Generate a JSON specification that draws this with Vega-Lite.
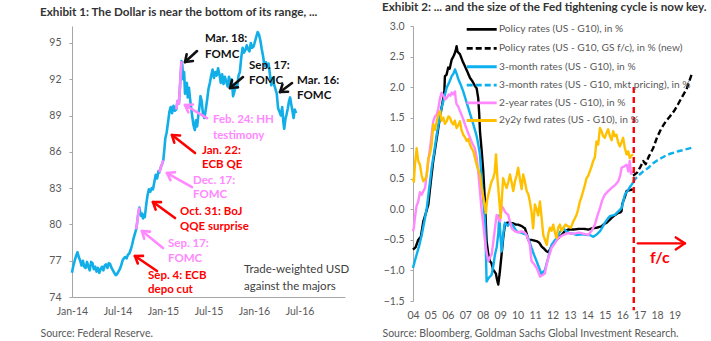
{
  "$schema": "https://vega.github.io/schema/vega-lite/v6.json",
  "background": "#ffffff",
  "padding": {"left": 40, "top": 2, "right": 2, "bottom": 2},
  "bounds": "flush",
  "spacing": 68,
  "config": {
    "font": "Lato",
    "view": {"stroke": null},
    "axis": {"grid": false, "domainColor": "#a6a6a6", "tickColor": "#a6a6a6", "labelColor": "#595959", "labelFontSize": 10.5, "labelFlush": false, "labelOverlap": false, "labelBound": false},
    "title": {"fontSize": 11.7, "fontWeight": "bold", "color": "#333333", "anchor": "start", "frame": "group", "offset": 7}
  },
  "resolve": {"scale": {"color": "independent", "strokeDash": "independent"}},
  "datasets": {
    "usd": [
      {"t": 2014.000, "v": 76.0, "p": 0}, {"t": 2014.015, "v": 76.6, "p": 0}, {"t": 2014.030, "v": 77.0, "p": 0}, {"t": 2014.045, "v": 77.4, "p": 0},
      {"t": 2014.060, "v": 77.7, "p": 0}, {"t": 2014.075, "v": 77.3, "p": 0}, {"t": 2014.090, "v": 77.0, "p": 0}, {"t": 2014.105, "v": 76.6, "p": 0},
      {"t": 2014.120, "v": 77.0, "p": 0}, {"t": 2014.135, "v": 76.5, "p": 0}, {"t": 2014.150, "v": 76.4, "p": 0}, {"t": 2014.165, "v": 76.9, "p": 0},
      {"t": 2014.180, "v": 76.5, "p": 0}, {"t": 2014.195, "v": 76.2, "p": 0}, {"t": 2014.210, "v": 76.9, "p": 0}, {"t": 2014.225, "v": 76.8, "p": 0},
      {"t": 2014.240, "v": 76.3, "p": 0}, {"t": 2014.255, "v": 76.5, "p": 0}, {"t": 2014.270, "v": 76.1, "p": 0}, {"t": 2014.285, "v": 76.4, "p": 0},
      {"t": 2014.300, "v": 76.0, "p": 0}, {"t": 2014.315, "v": 76.3, "p": 0}, {"t": 2014.330, "v": 76.5, "p": 0}, {"t": 2014.345, "v": 76.2, "p": 0},
      {"t": 2014.360, "v": 76.6, "p": 0}, {"t": 2014.375, "v": 76.7, "p": 0}, {"t": 2014.390, "v": 76.4, "p": 0}, {"t": 2014.405, "v": 76.8, "p": 0},
      {"t": 2014.420, "v": 76.7, "p": 0}, {"t": 2014.435, "v": 76.4, "p": 0}, {"t": 2014.450, "v": 76.2, "p": 0}, {"t": 2014.465, "v": 76.0, "p": 0},
      {"t": 2014.480, "v": 75.8, "p": 0}, {"t": 2014.495, "v": 75.9, "p": 0}, {"t": 2014.510, "v": 76.1, "p": 0}, {"t": 2014.525, "v": 76.3, "p": 0},
      {"t": 2014.540, "v": 76.6, "p": 0}, {"t": 2014.555, "v": 77.0, "p": 0}, {"t": 2014.570, "v": 77.2, "p": 0}, {"t": 2014.585, "v": 77.3, "p": 0},
      {"t": 2014.600, "v": 77.2, "p": 0}, {"t": 2014.615, "v": 77.5, "p": 0}, {"t": 2014.630, "v": 77.6, "p": 0}, {"t": 2014.645, "v": 77.9, "p": 0},
      {"t": 2014.660, "v": 78.3, "p": 0}, {"t": 2014.675, "v": 78.8, "p": 0}, {"t": 2014.690, "v": 79.2, "p": 0}, {"t": 2014.705, "v": 79.6, "p": 1},
      {"t": 2014.715, "v": 80.1, "p": 1}, {"t": 2014.725, "v": 80.7, "p": 1}, {"t": 2014.740, "v": 81.4, "p": 1}, {"t": 2014.750, "v": 81.0, "p": 0},
      {"t": 2014.760, "v": 80.7, "p": 0}, {"t": 2014.770, "v": 80.9, "p": 0}, {"t": 2014.780, "v": 80.5, "p": 0}, {"t": 2014.790, "v": 80.8, "p": 0},
      {"t": 2014.800, "v": 80.6, "p": 0}, {"t": 2014.815, "v": 81.6, "p": 0}, {"t": 2014.830, "v": 82.4, "p": 0}, {"t": 2014.845, "v": 82.9, "p": 0},
      {"t": 2014.860, "v": 82.7, "p": 0}, {"t": 2014.875, "v": 83.0, "p": 0}, {"t": 2014.890, "v": 82.9, "p": 0}, {"t": 2014.905, "v": 83.5, "p": 0},
      {"t": 2014.920, "v": 84.1, "p": 0}, {"t": 2014.935, "v": 83.8, "p": 0}, {"t": 2014.950, "v": 84.4, "p": 0}, {"t": 2014.960, "v": 84.3, "p": 2},
      {"t": 2014.975, "v": 84.7, "p": 2}, {"t": 2014.990, "v": 85.0, "p": 2}, {"t": 2015.003, "v": 85.3, "p": 2}, {"t": 2015.015, "v": 86.2, "p": 0},
      {"t": 2015.025, "v": 87.1, "p": 0}, {"t": 2015.040, "v": 87.6, "p": 0}, {"t": 2015.055, "v": 88.4, "p": 0}, {"t": 2015.070, "v": 89.3, "p": 0},
      {"t": 2015.085, "v": 89.7, "p": 0}, {"t": 2015.100, "v": 89.2, "p": 0}, {"t": 2015.115, "v": 89.8, "p": 0}, {"t": 2015.130, "v": 89.4, "p": 0},
      {"t": 2015.145, "v": 89.5, "p": 3}, {"t": 2015.160, "v": 90.2, "p": 3}, {"t": 2015.175, "v": 90.0, "p": 3}, {"t": 2015.190, "v": 91.8, "p": 3},
      {"t": 2015.203, "v": 93.5, "p": 3}, {"t": 2015.212, "v": 93.2, "p": 0}, {"t": 2015.222, "v": 92.0, "p": 0}, {"t": 2015.232, "v": 92.6, "p": 0},
      {"t": 2015.242, "v": 90.8, "p": 0}, {"t": 2015.252, "v": 91.5, "p": 0}, {"t": 2015.262, "v": 91.7, "p": 0}, {"t": 2015.272, "v": 90.5, "p": 0},
      {"t": 2015.285, "v": 91.3, "p": 0}, {"t": 2015.297, "v": 90.4, "p": 0}, {"t": 2015.310, "v": 89.6, "p": 0}, {"t": 2015.322, "v": 88.9, "p": 0},
      {"t": 2015.335, "v": 88.2, "p": 0}, {"t": 2015.350, "v": 87.8, "p": 0}, {"t": 2015.362, "v": 88.6, "p": 0}, {"t": 2015.375, "v": 88.1, "p": 0},
      {"t": 2015.388, "v": 89.0, "p": 0}, {"t": 2015.400, "v": 89.7, "p": 0}, {"t": 2015.412, "v": 90.6, "p": 0}, {"t": 2015.425, "v": 90.2, "p": 0},
      {"t": 2015.440, "v": 89.1, "p": 0}, {"t": 2015.455, "v": 88.8, "p": 0}, {"t": 2015.470, "v": 89.5, "p": 0}, {"t": 2015.485, "v": 90.3, "p": 0},
      {"t": 2015.500, "v": 91.2, "p": 0}, {"t": 2015.515, "v": 91.7, "p": 0}, {"t": 2015.530, "v": 92.3, "p": 0}, {"t": 2015.545, "v": 92.8, "p": 0},
      {"t": 2015.560, "v": 92.1, "p": 0}, {"t": 2015.575, "v": 92.6, "p": 0}, {"t": 2015.590, "v": 92.3, "p": 0}, {"t": 2015.605, "v": 92.9, "p": 0},
      {"t": 2015.620, "v": 92.4, "p": 0}, {"t": 2015.635, "v": 91.7, "p": 0}, {"t": 2015.650, "v": 92.4, "p": 0}, {"t": 2015.665, "v": 91.6, "p": 0},
      {"t": 2015.680, "v": 92.2, "p": 0}, {"t": 2015.695, "v": 91.8, "p": 0}, {"t": 2015.710, "v": 91.4, "p": 0}, {"t": 2015.725, "v": 92.2, "p": 0},
      {"t": 2015.740, "v": 91.6, "p": 0}, {"t": 2015.755, "v": 92.0, "p": 0}, {"t": 2015.770, "v": 90.6, "p": 0}, {"t": 2015.785, "v": 91.0, "p": 0},
      {"t": 2015.800, "v": 91.5, "p": 0}, {"t": 2015.815, "v": 91.3, "p": 0}, {"t": 2015.830, "v": 92.3, "p": 0}, {"t": 2015.845, "v": 92.6, "p": 0},
      {"t": 2015.860, "v": 93.8, "p": 0}, {"t": 2015.875, "v": 94.6, "p": 0}, {"t": 2015.890, "v": 94.2, "p": 0}, {"t": 2015.905, "v": 94.4, "p": 0},
      {"t": 2015.920, "v": 94.8, "p": 0}, {"t": 2015.935, "v": 94.5, "p": 0}, {"t": 2015.950, "v": 94.3, "p": 0}, {"t": 2015.965, "v": 95.0, "p": 0},
      {"t": 2015.980, "v": 94.6, "p": 0}, {"t": 2015.995, "v": 94.7, "p": 0}, {"t": 2016.010, "v": 95.1, "p": 0}, {"t": 2016.025, "v": 95.5, "p": 0},
      {"t": 2016.040, "v": 95.9, "p": 0}, {"t": 2016.055, "v": 95.7, "p": 0}, {"t": 2016.070, "v": 95.2, "p": 0}, {"t": 2016.085, "v": 94.5, "p": 0},
      {"t": 2016.100, "v": 93.9, "p": 0}, {"t": 2016.115, "v": 93.1, "p": 0}, {"t": 2016.130, "v": 93.4, "p": 0}, {"t": 2016.145, "v": 93.0, "p": 0},
      {"t": 2016.160, "v": 93.3, "p": 0}, {"t": 2016.175, "v": 92.4, "p": 0}, {"t": 2016.190, "v": 91.5, "p": 0}, {"t": 2016.205, "v": 92.1, "p": 0},
      {"t": 2016.220, "v": 91.6, "p": 0}, {"t": 2016.235, "v": 91.2, "p": 0}, {"t": 2016.250, "v": 90.8, "p": 0}, {"t": 2016.265, "v": 89.6, "p": 0},
      {"t": 2016.280, "v": 89.3, "p": 0}, {"t": 2016.295, "v": 89.0, "p": 0}, {"t": 2016.310, "v": 89.7, "p": 0}, {"t": 2016.322, "v": 88.5, "p": 0},
      {"t": 2016.332, "v": 87.9, "p": 0}, {"t": 2016.345, "v": 88.7, "p": 0}, {"t": 2016.358, "v": 89.1, "p": 0}, {"t": 2016.372, "v": 89.6, "p": 0},
      {"t": 2016.385, "v": 90.2, "p": 0}, {"t": 2016.397, "v": 90.5, "p": 0}, {"t": 2016.410, "v": 89.9, "p": 0}, {"t": 2016.422, "v": 89.4, "p": 0},
      {"t": 2016.435, "v": 88.8, "p": 0}, {"t": 2016.448, "v": 89.5, "p": 0}, {"t": 2016.462, "v": 89.2, "p": 0}
    ],
    "notes1": [
      {"t": 2015.462, "v": 95.32, "txt": "Mar. 18:", "k": "fed"},
      {"t": 2015.462, "v": 94.0, "txt": "FOMC", "k": "fed"},
      {"t": 2015.945, "v": 93.09, "txt": "Sep. 17:", "k": "fed"},
      {"t": 2015.945, "v": 91.85, "txt": "FOMC", "k": "fed"},
      {"t": 2016.473, "v": 91.85, "txt": "Mar. 16:", "k": "fed"},
      {"t": 2016.473, "v": 90.61, "txt": "FOMC", "k": "fed"},
      {"t": 2015.549, "v": 88.63, "txt": "Feb. 24: HH", "k": "fedrally"},
      {"t": 2015.549, "v": 87.31, "txt": "testimony", "k": "fedrally"},
      {"t": 2015.429, "v": 86.07, "txt": "Jan. 22:", "k": "foreign"},
      {"t": 2015.429, "v": 84.91, "txt": "ECB QE", "k": "foreign"},
      {"t": 2015.33, "v": 83.59, "txt": "Dec. 17:", "k": "fedrally"},
      {"t": 2015.33, "v": 82.43, "txt": "FOMC", "k": "fedrally"},
      {"t": 2015.187, "v": 81.02, "txt": "Oct. 31: BoJ", "k": "foreign"},
      {"t": 2015.187, "v": 79.79, "txt": "QQE surprise", "k": "foreign"},
      {"t": 2015.055, "v": 78.38, "txt": "Sep. 17:", "k": "fedrally"},
      {"t": 2015.055, "v": 77.14, "txt": "FOMC", "k": "fedrally"},
      {"t": 2014.835, "v": 75.74, "txt": "Sep. 4: ECB", "k": "foreign"},
      {"t": 2014.835, "v": 74.58, "txt": "depo cut", "k": "foreign"},
      {"t": 2015.89, "v": 76.23, "txt": "Trade-weighted USD", "k": "note"},
      {"t": 2015.89, "v": 74.83, "txt": "against the majors", "k": "note"}
    ],
    "arrows1": [
      {"t": 2015.374, "v": 94.331, "t2": 2015.242, "v2": 93.421, "k": "fed"},
      {"t": 2015.242, "v": 93.421, "t2": 2015.329, "v2": 93.504, "k": "fed"},
      {"t": 2015.242, "v": 93.421, "t2": 2015.260, "v2": 94.066, "k": "fed"},
      {"t": 2015.879, "v": 92.182, "t2": 2015.736, "v2": 91.273, "k": "fed"},
      {"t": 2015.736, "v": 91.273, "t2": 2015.824, "v2": 91.331, "k": "fed"},
      {"t": 2015.736, "v": 91.273, "t2": 2015.758, "v2": 91.909, "k": "fed"},
      {"t": 2016.418, "v": 91.686, "t2": 2016.286, "v2": 90.942, "k": "fed"},
      {"t": 2016.286, "v": 90.942, "t2": 2016.374, "v2": 90.967, "k": "fed"},
      {"t": 2016.286, "v": 90.942, "t2": 2016.313, "v2": 91.570, "k": "fed"},
      {"t": 2015.484, "v": 88.793, "t2": 2015.242, "v2": 89.868, "k": "fedrally"},
      {"t": 2015.242, "v": 89.868, "t2": 2015.278, "v2": 89.264, "k": "fedrally"},
      {"t": 2015.242, "v": 89.868, "t2": 2015.330, "v2": 89.917, "k": "fedrally"},
      {"t": 2015.352, "v": 85.901, "t2": 2015.099, "v2": 87.388, "k": "foreign"},
      {"t": 2015.099, "v": 87.388, "t2": 2015.124, "v2": 86.752, "k": "foreign"},
      {"t": 2015.099, "v": 87.388, "t2": 2015.187, "v2": 87.355, "k": "foreign"},
      {"t": 2015.319, "v": 83.091, "t2": 2015.044, "v2": 84.248, "k": "fedrally"},
      {"t": 2015.044, "v": 84.248, "t2": 2015.082, "v2": 83.653, "k": "fedrally"},
      {"t": 2015.044, "v": 84.248, "t2": 2015.132, "v2": 84.314, "k": "fedrally"},
      {"t": 2015.132, "v": 80.529, "t2": 2014.890, "v2": 81.851, "k": "foreign"},
      {"t": 2014.890, "v": 81.851, "t2": 2014.919, "v2": 81.223, "k": "foreign"},
      {"t": 2014.890, "v": 81.851, "t2": 2014.978, "v2": 81.843, "k": "foreign"},
      {"t": 2015.000, "v": 78.050, "t2": 2014.769, "v2": 79.455, "k": "fedrally"},
      {"t": 2014.769, "v": 79.455, "t2": 2014.793, "v2": 78.818, "k": "fedrally"},
      {"t": 2014.769, "v": 79.455, "t2": 2014.857, "v2": 79.405, "k": "fedrally"},
      {"t": 2014.934, "v": 76.149, "t2": 2014.692, "v2": 77.388, "k": "foreign"},
      {"t": 2014.692, "v": 77.388, "t2": 2014.723, "v2": 76.769, "k": "foreign"},
      {"t": 2014.692, "v": 77.388, "t2": 2014.780, "v2": 77.397, "k": "foreign"}
    ],
    "halfyears": [{"t": 2014}, {"t": 2014.5}, {"t": 2015}, {"t": 2015.5}, {"t": 2016}, {"t": 2016.5}, {"t": 2017}],
    "rates": [
      {"s": "pol", "t": 2004.00, "v": -0.66}, {"s": "pol", "t": 2004.15, "v": -0.62}, {"s": "pol", "t": 2004.30, "v": -0.50}, {"s": "pol", "t": 2004.45, "v": -0.45},
      {"s": "pol", "t": 2004.59, "v": -0.20}, {"s": "pol", "t": 2004.75, "v": -0.05}, {"s": "pol", "t": 2004.88, "v": 0.08}, {"s": "pol", "t": 2005.02, "v": 0.45},
      {"s": "pol", "t": 2005.16, "v": 0.79}, {"s": "pol", "t": 2005.30, "v": 1.05}, {"s": "pol", "t": 2005.45, "v": 1.33}, {"s": "pol", "t": 2005.60, "v": 1.60},
      {"s": "pol", "t": 2005.74, "v": 1.82}, {"s": "pol", "t": 2005.80, "v": 1.95}, {"s": "pol", "t": 2005.83, "v": 2.18}, {"s": "pol", "t": 2005.92, "v": 2.20},
      {"s": "pol", "t": 2006.02, "v": 2.32}, {"s": "pol", "t": 2006.10, "v": 2.30}, {"s": "pol", "t": 2006.22, "v": 2.45}, {"s": "pol", "t": 2006.35, "v": 2.52},
      {"s": "pol", "t": 2006.45, "v": 2.60}, {"s": "pol", "t": 2006.50, "v": 2.67}, {"s": "pol", "t": 2006.55, "v": 2.58}, {"s": "pol", "t": 2006.69, "v": 2.54},
      {"s": "pol", "t": 2006.85, "v": 2.42}, {"s": "pol", "t": 2006.98, "v": 2.34}, {"s": "pol", "t": 2007.12, "v": 2.25}, {"s": "pol", "t": 2007.27, "v": 2.15},
      {"s": "pol", "t": 2007.40, "v": 2.10}, {"s": "pol", "t": 2007.55, "v": 2.02}, {"s": "pol", "t": 2007.65, "v": 1.98}, {"s": "pol", "t": 2007.74, "v": 1.82},
      {"s": "pol", "t": 2007.80, "v": 1.55}, {"s": "pol", "t": 2007.84, "v": 1.28}, {"s": "pol", "t": 2007.94, "v": 0.95}, {"s": "pol", "t": 2008.03, "v": 0.62},
      {"s": "pol", "t": 2008.13, "v": 0.10}, {"s": "pol", "t": 2008.22, "v": -0.52}, {"s": "pol", "t": 2008.30, "v": -0.70}, {"s": "pol", "t": 2008.41, "v": -0.85},
      {"s": "pol", "t": 2008.50, "v": -0.88}, {"s": "pol", "t": 2008.60, "v": -0.99}, {"s": "pol", "t": 2008.75, "v": -1.05}, {"s": "pol", "t": 2008.82, "v": -1.15},
      {"s": "pol", "t": 2008.89, "v": -1.23}, {"s": "pol", "t": 2008.97, "v": -1.05}, {"s": "pol", "t": 2009.08, "v": -0.74}, {"s": "pol", "t": 2009.18, "v": -0.45},
      {"s": "pol", "t": 2009.27, "v": -0.25}, {"s": "pol", "t": 2009.40, "v": -0.22}, {"s": "pol", "t": 2009.56, "v": -0.22}, {"s": "pol", "t": 2009.75, "v": -0.23},
      {"s": "pol", "t": 2009.90, "v": -0.25}, {"s": "pol", "t": 2010.03, "v": -0.25}, {"s": "pol", "t": 2010.20, "v": -0.27}, {"s": "pol", "t": 2010.42, "v": -0.31},
      {"s": "pol", "t": 2010.52, "v": -0.40}, {"s": "pol", "t": 2010.61, "v": -0.50}, {"s": "pol", "t": 2010.80, "v": -0.50}, {"s": "pol", "t": 2010.95, "v": -0.51},
      {"s": "pol", "t": 2011.09, "v": -0.52}, {"s": "pol", "t": 2011.25, "v": -0.55}, {"s": "pol", "t": 2011.38, "v": -0.61}, {"s": "pol", "t": 2011.50, "v": -0.64},
      {"s": "pol", "t": 2011.67, "v": -0.69}, {"s": "pol", "t": 2011.75, "v": -0.70}, {"s": "pol", "t": 2011.85, "v": -0.66}, {"s": "pol", "t": 2012.00, "v": -0.58},
      {"s": "pol", "t": 2012.14, "v": -0.52}, {"s": "pol", "t": 2012.30, "v": -0.48}, {"s": "pol", "t": 2012.52, "v": -0.42}, {"s": "pol", "t": 2012.70, "v": -0.36},
      {"s": "pol", "t": 2012.90, "v": -0.33}, {"s": "pol", "t": 2013.20, "v": -0.33}, {"s": "pol", "t": 2013.50, "v": -0.32}, {"s": "pol", "t": 2013.80, "v": -0.32},
      {"s": "pol", "t": 2014.05, "v": -0.33}, {"s": "pol", "t": 2014.30, "v": -0.31}, {"s": "pol", "t": 2014.55, "v": -0.30}, {"s": "pol", "t": 2014.81, "v": -0.28},
      {"s": "pol", "t": 2014.95, "v": -0.24}, {"s": "pol", "t": 2015.10, "v": -0.22}, {"s": "pol", "t": 2015.25, "v": -0.18}, {"s": "pol", "t": 2015.39, "v": -0.14},
      {"s": "pol", "t": 2015.55, "v": -0.10}, {"s": "pol", "t": 2015.77, "v": -0.06}, {"s": "pol", "t": 2015.90, "v": -0.05}, {"s": "pol", "t": 2015.96, "v": -0.03},
      {"s": "pol", "t": 2016.00, "v": 0.08}, {"s": "pol", "t": 2016.05, "v": 0.13}, {"s": "pol", "t": 2016.15, "v": 0.20}, {"s": "pol", "t": 2016.25, "v": 0.30},
      {"s": "pol", "t": 2016.40, "v": 0.31}, {"s": "pol", "t": 2016.53, "v": 0.32}, {"s": "pol", "t": 2016.60, "v": 0.33},
      {"s": "polfc", "t": 2016.62, "v": 0.55}, {"s": "polfc", "t": 2016.85, "v": 0.60}, {"s": "polfc", "t": 2017.05, "v": 0.70}, {"s": "polfc", "t": 2017.20, "v": 0.79},
      {"s": "polfc", "t": 2017.35, "v": 0.74}, {"s": "polfc", "t": 2017.50, "v": 0.85}, {"s": "polfc", "t": 2017.77, "v": 1.00}, {"s": "polfc", "t": 2018.00, "v": 1.18},
      {"s": "polfc", "t": 2018.25, "v": 1.33}, {"s": "polfc", "t": 2018.50, "v": 1.44}, {"s": "polfc", "t": 2018.73, "v": 1.52}, {"s": "polfc", "t": 2019.00, "v": 1.62},
      {"s": "polfc", "t": 2019.20, "v": 1.72}, {"s": "polfc", "t": 2019.45, "v": 1.85}, {"s": "polfc", "t": 2019.68, "v": 1.96}, {"s": "polfc", "t": 2019.97, "v": 2.20},
      {"s": "m3", "t": 2004.00, "v": -0.96}, {"s": "m3", "t": 2004.10, "v": -0.85}, {"s": "m3", "t": 2004.21, "v": -0.74}, {"s": "m3", "t": 2004.35, "v": -0.60},
      {"s": "m3", "t": 2004.50, "v": -0.42}, {"s": "m3", "t": 2004.65, "v": -0.20}, {"s": "m3", "t": 2004.79, "v": 0.02}, {"s": "m3", "t": 2004.93, "v": 0.35},
      {"s": "m3", "t": 2005.07, "v": 0.68}, {"s": "m3", "t": 2005.22, "v": 0.95}, {"s": "m3", "t": 2005.36, "v": 1.22}, {"s": "m3", "t": 2005.50, "v": 1.45},
      {"s": "m3", "t": 2005.64, "v": 1.66}, {"s": "m3", "t": 2005.78, "v": 1.82}, {"s": "m3", "t": 2005.93, "v": 1.99}, {"s": "m3", "t": 2006.08, "v": 2.08},
      {"s": "m3", "t": 2006.22, "v": 2.18}, {"s": "m3", "t": 2006.32, "v": 2.22}, {"s": "m3", "t": 2006.41, "v": 2.29}, {"s": "m3", "t": 2006.50, "v": 2.22},
      {"s": "m3", "t": 2006.60, "v": 2.13}, {"s": "m3", "t": 2006.75, "v": 2.03}, {"s": "m3", "t": 2006.88, "v": 1.93}, {"s": "m3", "t": 2007.02, "v": 1.80},
      {"s": "m3", "t": 2007.17, "v": 1.66}, {"s": "m3", "t": 2007.32, "v": 1.52}, {"s": "m3", "t": 2007.46, "v": 1.39}, {"s": "m3", "t": 2007.55, "v": 1.30},
      {"s": "m3", "t": 2007.65, "v": 1.20}, {"s": "m3", "t": 2007.75, "v": 1.05}, {"s": "m3", "t": 2007.84, "v": 0.90}, {"s": "m3", "t": 2007.94, "v": 0.46},
      {"s": "m3", "t": 2008.05, "v": 0.10}, {"s": "m3", "t": 2008.13, "v": -0.20}, {"s": "m3", "t": 2008.18, "v": -0.70}, {"s": "m3", "t": 2008.22, "v": -1.18},
      {"s": "m3", "t": 2008.35, "v": -1.12}, {"s": "m3", "t": 2008.51, "v": -1.07}, {"s": "m3", "t": 2008.62, "v": -0.90}, {"s": "m3", "t": 2008.70, "v": -0.74},
      {"s": "m3", "t": 2008.80, "v": -0.62}, {"s": "m3", "t": 2008.89, "v": -0.40}, {"s": "m3", "t": 2008.95, "v": -0.10}, {"s": "m3", "t": 2009.02, "v": -0.45},
      {"s": "m3", "t": 2009.08, "v": -0.69}, {"s": "m3", "t": 2009.18, "v": -0.40}, {"s": "m3", "t": 2009.27, "v": -0.22}, {"s": "m3", "t": 2009.44, "v": -0.27},
      {"s": "m3", "t": 2009.56, "v": -0.22}, {"s": "m3", "t": 2009.70, "v": -0.25}, {"s": "m3", "t": 2009.94, "v": -0.36}, {"s": "m3", "t": 2010.20, "v": -0.38},
      {"s": "m3", "t": 2010.52, "v": -0.42}, {"s": "m3", "t": 2010.65, "v": -0.50}, {"s": "m3", "t": 2010.80, "v": -0.63}, {"s": "m3", "t": 2010.95, "v": -0.75},
      {"s": "m3", "t": 2011.09, "v": -0.85}, {"s": "m3", "t": 2011.25, "v": -0.97}, {"s": "m3", "t": 2011.38, "v": -1.07}, {"s": "m3", "t": 2011.47, "v": -1.02},
      {"s": "m3", "t": 2011.56, "v": -1.00}, {"s": "m3", "t": 2011.65, "v": -0.90}, {"s": "m3", "t": 2011.75, "v": -0.80}, {"s": "m3", "t": 2011.85, "v": -0.68},
      {"s": "m3", "t": 2011.95, "v": -0.58}, {"s": "m3", "t": 2012.10, "v": -0.52}, {"s": "m3", "t": 2012.23, "v": -0.47}, {"s": "m3", "t": 2012.40, "v": -0.38},
      {"s": "m3", "t": 2012.61, "v": -0.31}, {"s": "m3", "t": 2012.80, "v": -0.36}, {"s": "m3", "t": 2012.99, "v": -0.39}, {"s": "m3", "t": 2013.20, "v": -0.40},
      {"s": "m3", "t": 2013.38, "v": -0.42}, {"s": "m3", "t": 2013.70, "v": -0.41}, {"s": "m3", "t": 2014.00, "v": -0.42}, {"s": "m3", "t": 2014.14, "v": -0.42},
      {"s": "m3", "t": 2014.33, "v": -0.45}, {"s": "m3", "t": 2014.50, "v": -0.42}, {"s": "m3", "t": 2014.72, "v": -0.36}, {"s": "m3", "t": 2014.85, "v": -0.30},
      {"s": "m3", "t": 2015.00, "v": -0.22}, {"s": "m3", "t": 2015.15, "v": -0.16}, {"s": "m3", "t": 2015.29, "v": -0.11}, {"s": "m3", "t": 2015.45, "v": -0.10},
      {"s": "m3", "t": 2015.57, "v": -0.09}, {"s": "m3", "t": 2015.75, "v": -0.04}, {"s": "m3", "t": 2015.96, "v": 0.02}, {"s": "m3", "t": 2016.05, "v": 0.12},
      {"s": "m3", "t": 2016.15, "v": 0.24}, {"s": "m3", "t": 2016.30, "v": 0.30}, {"s": "m3", "t": 2016.45, "v": 0.37}, {"s": "m3", "t": 2016.53, "v": 0.40},
      {"s": "m3", "t": 2016.62, "v": 0.44},
      {"s": "m3mkt", "t": 2016.62, "v": 0.45}, {"s": "m3mkt", "t": 2016.82, "v": 0.52}, {"s": "m3mkt", "t": 2017.00, "v": 0.57}, {"s": "m3mkt", "t": 2017.20, "v": 0.62},
      {"s": "m3mkt", "t": 2017.50, "v": 0.68}, {"s": "m3mkt", "t": 2017.75, "v": 0.75}, {"s": "m3mkt", "t": 2018.00, "v": 0.80}, {"s": "m3mkt", "t": 2018.25, "v": 0.84},
      {"s": "m3mkt", "t": 2018.50, "v": 0.88}, {"s": "m3mkt", "t": 2018.75, "v": 0.91}, {"s": "m3mkt", "t": 2019.00, "v": 0.93}, {"s": "m3mkt", "t": 2019.20, "v": 0.95},
      {"s": "m3mkt", "t": 2019.50, "v": 0.97}, {"s": "m3mkt", "t": 2019.75, "v": 0.99}, {"s": "m3mkt", "t": 2020.00, "v": 1.01},
      {"s": "y2", "t": 2004.00, "v": -0.36}, {"s": "y2", "t": 2004.05, "v": -0.30}, {"s": "y2", "t": 2004.11, "v": -0.14}, {"s": "y2", "t": 2004.20, "v": 0.05},
      {"s": "y2", "t": 2004.30, "v": 0.13}, {"s": "y2", "t": 2004.40, "v": 0.28}, {"s": "y2", "t": 2004.50, "v": 0.24}, {"s": "y2", "t": 2004.60, "v": 0.30},
      {"s": "y2", "t": 2004.69, "v": 0.35}, {"s": "y2", "t": 2004.78, "v": 0.55}, {"s": "y2", "t": 2004.88, "v": 0.79}, {"s": "y2", "t": 2005.02, "v": 1.10},
      {"s": "y2", "t": 2005.16, "v": 1.44}, {"s": "y2", "t": 2005.26, "v": 1.52}, {"s": "y2", "t": 2005.36, "v": 1.55}, {"s": "y2", "t": 2005.45, "v": 1.65},
      {"s": "y2", "t": 2005.55, "v": 1.82}, {"s": "y2", "t": 2005.64, "v": 1.91}, {"s": "y2", "t": 2005.75, "v": 1.85}, {"s": "y2", "t": 2005.85, "v": 1.80},
      {"s": "y2", "t": 2005.93, "v": 1.82}, {"s": "y2", "t": 2006.05, "v": 1.88}, {"s": "y2", "t": 2006.15, "v": 1.86}, {"s": "y2", "t": 2006.22, "v": 1.91},
      {"s": "y2", "t": 2006.32, "v": 1.88}, {"s": "y2", "t": 2006.41, "v": 1.93}, {"s": "y2", "t": 2006.45, "v": 1.80}, {"s": "y2", "t": 2006.50, "v": 1.72},
      {"s": "y2", "t": 2006.60, "v": 1.68}, {"s": "y2", "t": 2006.69, "v": 1.61}, {"s": "y2", "t": 2006.85, "v": 1.50}, {"s": "y2", "t": 2006.98, "v": 1.39},
      {"s": "y2", "t": 2007.12, "v": 1.28}, {"s": "y2", "t": 2007.27, "v": 1.17}, {"s": "y2", "t": 2007.40, "v": 1.08}, {"s": "y2", "t": 2007.55, "v": 1.00},
      {"s": "y2", "t": 2007.65, "v": 0.85}, {"s": "y2", "t": 2007.74, "v": 0.62}, {"s": "y2", "t": 2007.84, "v": 0.30}, {"s": "y2", "t": 2007.94, "v": -0.03},
      {"s": "y2", "t": 2008.03, "v": -0.25}, {"s": "y2", "t": 2008.13, "v": -0.52}, {"s": "y2", "t": 2008.22, "v": -0.70}, {"s": "y2", "t": 2008.32, "v": -0.85},
      {"s": "y2", "t": 2008.42, "v": -0.78}, {"s": "y2", "t": 2008.51, "v": -0.74}, {"s": "y2", "t": 2008.60, "v": -0.55}, {"s": "y2", "t": 2008.70, "v": -0.31},
      {"s": "y2", "t": 2008.80, "v": -0.09}, {"s": "y2", "t": 2008.90, "v": -0.15}, {"s": "y2", "t": 2008.99, "v": -0.20}, {"s": "y2", "t": 2009.08, "v": 0.05},
      {"s": "y2", "t": 2009.17, "v": 0.02}, {"s": "y2", "t": 2009.30, "v": -0.05}, {"s": "y2", "t": 2009.46, "v": -0.09}, {"s": "y2", "t": 2009.56, "v": -0.20},
      {"s": "y2", "t": 2009.66, "v": -0.31}, {"s": "y2", "t": 2009.85, "v": -0.36}, {"s": "y2", "t": 2010.03, "v": -0.38}, {"s": "y2", "t": 2010.20, "v": -0.36},
      {"s": "y2", "t": 2010.42, "v": -0.38}, {"s": "y2", "t": 2010.55, "v": -0.45}, {"s": "y2", "t": 2010.70, "v": -0.58}, {"s": "y2", "t": 2010.80, "v": -0.85},
      {"s": "y2", "t": 2010.95, "v": -0.90}, {"s": "y2", "t": 2011.09, "v": -0.96}, {"s": "y2", "t": 2011.18, "v": -1.02}, {"s": "y2", "t": 2011.28, "v": -1.10},
      {"s": "y2", "t": 2011.40, "v": -1.08}, {"s": "y2", "t": 2011.56, "v": -1.05}, {"s": "y2", "t": 2011.65, "v": -0.92}, {"s": "y2", "t": 2011.75, "v": -0.80},
      {"s": "y2", "t": 2011.85, "v": -0.72}, {"s": "y2", "t": 2011.95, "v": -0.63}, {"s": "y2", "t": 2012.15, "v": -0.55}, {"s": "y2", "t": 2012.33, "v": -0.47},
      {"s": "y2", "t": 2012.60, "v": -0.42}, {"s": "y2", "t": 2012.90, "v": -0.39}, {"s": "y2", "t": 2013.20, "v": -0.40}, {"s": "y2", "t": 2013.50, "v": -0.38},
      {"s": "y2", "t": 2013.80, "v": -0.40}, {"s": "y2", "t": 2014.05, "v": -0.42}, {"s": "y2", "t": 2014.25, "v": -0.35}, {"s": "y2", "t": 2014.43, "v": -0.25},
      {"s": "y2", "t": 2014.58, "v": -0.10}, {"s": "y2", "t": 2014.72, "v": 0.02}, {"s": "y2", "t": 2014.85, "v": 0.15}, {"s": "y2", "t": 2015.00, "v": 0.24},
      {"s": "y2", "t": 2015.20, "v": 0.30}, {"s": "y2", "t": 2015.39, "v": 0.35}, {"s": "y2", "t": 2015.60, "v": 0.40}, {"s": "y2", "t": 2015.77, "v": 0.46},
      {"s": "y2", "t": 2015.88, "v": 0.55}, {"s": "y2", "t": 2015.96, "v": 0.68}, {"s": "y2", "t": 2016.10, "v": 0.70}, {"s": "y2", "t": 2016.25, "v": 0.73},
      {"s": "y2", "t": 2016.35, "v": 0.62}, {"s": "y2", "t": 2016.43, "v": 0.79}, {"s": "y2", "t": 2016.50, "v": 0.58}, {"s": "y2", "t": 2016.60, "v": 0.62},
      {"s": "y2y2", "t": 2004.00, "v": 0.51}, {"s": "y2y2", "t": 2004.05, "v": 0.45}, {"s": "y2y2", "t": 2004.11, "v": 0.73}, {"s": "y2y2", "t": 2004.21, "v": 1.00},
      {"s": "y2y2", "t": 2004.30, "v": 0.79}, {"s": "y2y2", "t": 2004.40, "v": 0.73}, {"s": "y2y2", "t": 2004.50, "v": 0.55}, {"s": "y2y2", "t": 2004.59, "v": 0.46},
      {"s": "y2y2", "t": 2004.69, "v": 0.49}, {"s": "y2y2", "t": 2004.78, "v": 0.55}, {"s": "y2y2", "t": 2004.88, "v": 0.84}, {"s": "y2y2", "t": 2004.97, "v": 0.90},
      {"s": "y2y2", "t": 2005.07, "v": 1.06}, {"s": "y2y2", "t": 2005.16, "v": 1.39}, {"s": "y2y2", "t": 2005.26, "v": 1.30}, {"s": "y2y2", "t": 2005.36, "v": 1.44},
      {"s": "y2y2", "t": 2005.45, "v": 1.55}, {"s": "y2y2", "t": 2005.55, "v": 1.61}, {"s": "y2y2", "t": 2005.64, "v": 1.45}, {"s": "y2y2", "t": 2005.74, "v": 1.50},
      {"s": "y2y2", "t": 2005.83, "v": 1.40}, {"s": "y2y2", "t": 2005.93, "v": 1.44}, {"s": "y2y2", "t": 2006.03, "v": 1.52}, {"s": "y2y2", "t": 2006.12, "v": 1.50},
      {"s": "y2y2", "t": 2006.22, "v": 1.42}, {"s": "y2y2", "t": 2006.31, "v": 1.39}, {"s": "y2y2", "t": 2006.40, "v": 1.45}, {"s": "y2y2", "t": 2006.50, "v": 1.33},
      {"s": "y2y2", "t": 2006.60, "v": 1.38}, {"s": "y2y2", "t": 2006.69, "v": 1.44}, {"s": "y2y2", "t": 2006.78, "v": 1.30}, {"s": "y2y2", "t": 2006.88, "v": 1.22},
      {"s": "y2y2", "t": 2006.98, "v": 1.18}, {"s": "y2y2", "t": 2007.08, "v": 1.12}, {"s": "y2y2", "t": 2007.17, "v": 1.15}, {"s": "y2y2", "t": 2007.27, "v": 1.06},
      {"s": "y2y2", "t": 2007.36, "v": 1.00}, {"s": "y2y2", "t": 2007.46, "v": 0.95}, {"s": "y2y2", "t": 2007.55, "v": 0.85}, {"s": "y2y2", "t": 2007.65, "v": 0.73},
      {"s": "y2y2", "t": 2007.74, "v": 0.65}, {"s": "y2y2", "t": 2007.84, "v": 0.57}, {"s": "y2y2", "t": 2007.94, "v": 0.35}, {"s": "y2y2", "t": 2008.07, "v": 0.13},
      {"s": "y2y2", "t": 2008.18, "v": -0.06}, {"s": "y2y2", "t": 2008.25, "v": 0.15}, {"s": "y2y2", "t": 2008.32, "v": 0.24}, {"s": "y2y2", "t": 2008.41, "v": 0.35},
      {"s": "y2y2", "t": 2008.50, "v": 0.45}, {"s": "y2y2", "t": 2008.60, "v": 0.51}, {"s": "y2y2", "t": 2008.68, "v": 0.60}, {"s": "y2y2", "t": 2008.76, "v": 0.90},
      {"s": "y2y2", "t": 2008.83, "v": 0.55}, {"s": "y2y2", "t": 2008.89, "v": 0.35}, {"s": "y2y2", "t": 2008.96, "v": 0.10}, {"s": "y2y2", "t": 2009.03, "v": -0.14},
      {"s": "y2y2", "t": 2009.10, "v": 0.20}, {"s": "y2y2", "t": 2009.17, "v": 0.51}, {"s": "y2y2", "t": 2009.27, "v": 0.42}, {"s": "y2y2", "t": 2009.37, "v": 0.35},
      {"s": "y2y2", "t": 2009.47, "v": 0.45}, {"s": "y2y2", "t": 2009.56, "v": 0.57}, {"s": "y2y2", "t": 2009.65, "v": 0.45}, {"s": "y2y2", "t": 2009.75, "v": 0.30},
      {"s": "y2y2", "t": 2009.85, "v": 0.46}, {"s": "y2y2", "t": 2009.94, "v": 0.55}, {"s": "y2y2", "t": 2010.03, "v": 0.68}, {"s": "y2y2", "t": 2010.13, "v": 0.50},
      {"s": "y2y2", "t": 2010.23, "v": 0.33}, {"s": "y2y2", "t": 2010.32, "v": 0.57}, {"s": "y2y2", "t": 2010.42, "v": 0.45}, {"s": "y2y2", "t": 2010.52, "v": 0.30},
      {"s": "y2y2", "t": 2010.61, "v": 0.25}, {"s": "y2y2", "t": 2010.70, "v": 0.13}, {"s": "y2y2", "t": 2010.80, "v": -0.05}, {"s": "y2y2", "t": 2010.89, "v": -0.31},
      {"s": "y2y2", "t": 2010.99, "v": 0.08}, {"s": "y2y2", "t": 2011.09, "v": 0.00}, {"s": "y2y2", "t": 2011.18, "v": -0.10}, {"s": "y2y2", "t": 2011.28, "v": 0.13},
      {"s": "y2y2", "t": 2011.38, "v": -0.15}, {"s": "y2y2", "t": 2011.47, "v": -0.42}, {"s": "y2y2", "t": 2011.57, "v": -0.50}, {"s": "y2y2", "t": 2011.67, "v": -0.58},
      {"s": "y2y2", "t": 2011.76, "v": -0.40}, {"s": "y2y2", "t": 2011.85, "v": -0.30}, {"s": "y2y2", "t": 2011.95, "v": -0.35}, {"s": "y2y2", "t": 2012.04, "v": -0.25},
      {"s": "y2y2", "t": 2012.14, "v": -0.38}, {"s": "y2y2", "t": 2012.23, "v": -0.47}, {"s": "y2y2", "t": 2012.33, "v": -0.30}, {"s": "y2y2", "t": 2012.42, "v": -0.25},
      {"s": "y2y2", "t": 2012.52, "v": -0.35}, {"s": "y2y2", "t": 2012.61, "v": -0.31}, {"s": "y2y2", "t": 2012.75, "v": -0.25}, {"s": "y2y2", "t": 2012.90, "v": -0.28},
      {"s": "y2y2", "t": 2013.05, "v": -0.30}, {"s": "y2y2", "t": 2013.19, "v": -0.20}, {"s": "y2y2", "t": 2013.28, "v": -0.15}, {"s": "y2y2", "t": 2013.38, "v": -0.09},
      {"s": "y2y2", "t": 2013.47, "v": 0.00}, {"s": "y2y2", "t": 2013.57, "v": 0.13}, {"s": "y2y2", "t": 2013.66, "v": 0.20}, {"s": "y2y2", "t": 2013.76, "v": 0.30},
      {"s": "y2y2", "t": 2013.86, "v": 0.40}, {"s": "y2y2", "t": 2013.95, "v": 0.51}, {"s": "y2y2", "t": 2014.05, "v": 0.55}, {"s": "y2y2", "t": 2014.14, "v": 0.62},
      {"s": "y2y2", "t": 2014.24, "v": 0.70}, {"s": "y2y2", "t": 2014.33, "v": 0.79}, {"s": "y2y2", "t": 2014.43, "v": 0.85}, {"s": "y2y2", "t": 2014.52, "v": 1.11},
      {"s": "y2y2", "t": 2014.62, "v": 1.06}, {"s": "y2y2", "t": 2014.72, "v": 1.33}, {"s": "y2y2", "t": 2014.81, "v": 1.28}, {"s": "y2y2", "t": 2014.90, "v": 1.20},
      {"s": "y2y2", "t": 2015.00, "v": 1.17}, {"s": "y2y2", "t": 2015.10, "v": 1.25}, {"s": "y2y2", "t": 2015.19, "v": 1.31}, {"s": "y2y2", "t": 2015.29, "v": 1.20},
      {"s": "y2y2", "t": 2015.39, "v": 1.13}, {"s": "y2y2", "t": 2015.48, "v": 1.28}, {"s": "y2y2", "t": 2015.57, "v": 1.20}, {"s": "y2y2", "t": 2015.67, "v": 1.22},
      {"s": "y2y2", "t": 2015.76, "v": 1.10}, {"s": "y2y2", "t": 2015.86, "v": 1.03}, {"s": "y2y2", "t": 2015.96, "v": 1.10}, {"s": "y2y2", "t": 2016.05, "v": 1.17},
      {"s": "y2y2", "t": 2016.15, "v": 1.00}, {"s": "y2y2", "t": 2016.25, "v": 0.90}, {"s": "y2y2", "t": 2016.34, "v": 0.95}, {"s": "y2y2", "t": 2016.43, "v": 0.84},
      {"s": "y2y2", "t": 2016.52, "v": 0.88}, {"s": "y2y2", "t": 2016.62, "v": 0.90}
    ],
    "keyrows": [
      {"s": "pol", "label": "Policy rates (US - G10), in %", "v": 2.946, "t": 2007.08, "t2": 2008.8, "tl": 2008.93},
      {"s": "polfc", "label": "Policy rates (US - G10, GS f/c), in % (new)", "v": 2.634, "t": 2007.08, "t2": 2008.8, "tl": 2008.93},
      {"s": "m3", "label": "3-month rates (US - G10), in %", "v": 2.333, "t": 2007.08, "t2": 2008.8, "tl": 2008.93},
      {"s": "m3mkt", "label": "3-month rates (US - G10, mkt pricing), in %", "v": 2.033, "t": 2007.08, "t2": 2008.8, "tl": 2008.93},
      {"s": "y2", "label": "2-year rates (US - G10), in %", "v": 1.743, "t": 2007.08, "t2": 2008.8, "tl": 2008.93},
      {"s": "y2y2", "label": "2y2y fwd rates (US - G10), in %", "v": 1.454, "t": 2007.08, "t2": 2008.8, "tl": 2008.93}
    ],
    "years": [
      {"t": 2004}, {"t": 2005}, {"t": 2006}, {"t": 2007}, {"t": 2008}, {"t": 2009}, {"t": 2010}, {"t": 2011}, {"t": 2012},
      {"t": 2013}, {"t": 2014}, {"t": 2015}, {"t": 2016}, {"t": 2017}, {"t": 2018}, {"t": 2019}, {"t": 2020}
    ],
    "fcline": [{"t": 2016.66, "v": 2.0, "v2": -1.65}],
    "fcarrow": [
      {"t": 2016.894, "v": -0.557, "t2": 2019.587, "v2": -0.557},
      {"t": 2019.587, "v": -0.557, "t2": 2019.07, "v2": -0.459},
      {"t": 2019.587, "v": -0.557, "t2": 2019.07, "v2": -0.656}
    ],
    "fctext": [{"t": 2018.155, "v": -0.80, "txt": "f/c"}]
  },
  "hconcat": [
    {
      "width": 273,
      "height": 271,
      "title": {"text": "Exhibit 1: The Dollar is near the bottom of its range, ...", "dx": -32},
      "encoding": {
        "x": {"field": "t", "type": "quantitative", "scale": {"domain": [2014, 2017], "nice": false, "zero": false},
          "axis": {"values": [2014, 2014.5, 2015, 2015.5, 2016, 2016.5],
            "labelExpr": "((datum.value % 1) > 0.25 ? 'Jul-' : 'Jan-') + substring(toString(floor(datum.value)), 2, 4)",
            "ticks": false, "labelPadding": 9,
            "title": "Source: Federal Reserve.", "titleX": -32, "titleY": 36, "titleAlign": "left", "titleAnchor": "start", "titleBaseline": "middle",
            "titleFontWeight": "normal", "titleFontSize": 10.5, "titleColor": "#595959"}},
        "y": {"field": "v", "type": "quantitative", "scale": {"domain": [74, 96.4], "nice": false, "zero": false},
          "axis": {"values": [74, 77, 80, 83, 86, 89, 92, 95], "tickSize": 3, "labelPadding": 8, "title": null}}
      },
      "layer": [
        {"data": {"name": "halfyears"}, "mark": {"type": "rule", "color": "#a6a6a6", "strokeWidth": 1},
          "encoding": {"y": {"datum": 74}, "y2": {"datum": 74.33}}},
        {"data": {"name": "usd"}, "mark": {"type": "line", "color": "#12aee8", "strokeWidth": 2.6, "strokeJoin": "round"}},
        {"data": {"name": "usd"}, "transform": [{"filter": "datum.p > 0"}], "mark": {"type": "line", "color": "#ff88ff", "strokeWidth": 2.6, "strokeJoin": "round"}, "encoding": {"detail": {"field": "p", "type": "nominal"}}},
        {"data": {"name": "arrows1"}, "mark": {"type": "rule", "strokeWidth": 2.6, "strokeCap": "round"},
          "encoding": {"x2": {"field": "t2"}, "y2": {"field": "v2"},
            "color": {"field": "k", "type": "nominal", "scale": {"domain": ["fed", "fedrally", "foreign", "note"], "range": ["#111111", "#ff88ff", "#ff0000", "#404040"]}, "legend": null}}},
        {"data": {"name": "notes1"}, "transform": [{"filter": "datum.k != 'note'"}], "mark": {"type": "text", "align": "left", "baseline": "middle", "fontSize": 11.5, "fontWeight": "bold"},
          "encoding": {"text": {"field": "txt"},
            "color": {"field": "k", "type": "nominal", "scale": {"domain": ["fed", "fedrally", "foreign", "note"], "range": ["#111111", "#ff88ff", "#ff0000", "#404040"]}, "legend": null}}},
        {"data": {"name": "notes1"}, "transform": [{"filter": "datum.k == 'note'"}], "mark": {"type": "text", "align": "left", "baseline": "middle", "fontSize": 11.5, "fontWeight": "normal", "color": "#404040"},
          "encoding": {"text": {"field": "txt"}}}
      ]
    },
    {
      "width": 279,
      "height": 275,
      "title": {"text": "Exhibit 2: ... and the size of the Fed tightening cycle is now key.", "dx": -31},
      "encoding": {
        "x": {"field": "t", "type": "quantitative", "scale": {"domain": [2004, 2020], "nice": false, "zero": false},
          "axis": {"values": [2004, 2005, 2006, 2007, 2008, 2009, 2010, 2011, 2012, 2013, 2014, 2015, 2016, 2017, 2018, 2019],
            "labelExpr": "substring(toString(datum.value), 2, 4)", "domain": false, "ticks": false, "labelPadding": 9,
            "title": "Source: Bloomberg, Goldman Sachs Global Investment Research.", "titleX": -31, "titleY": 32, "titleAlign": "left", "titleAnchor": "start", "titleBaseline": "middle",
            "titleFontWeight": "normal", "titleFontSize": 10.5, "titleColor": "#595959"}},
        "y": {"field": "v", "type": "quantitative", "scale": {"domain": [-1.5, 3], "nice": false, "zero": false},
          "axis": {"values": [-1.5, -1, -0.5, 0, 0.5, 1, 1.5, 2, 2.5, 3], "format": ".1f", "tickSize": 3, "labelPadding": 6, "title": null}}
      },
      "layer": [
        {"data": {"name": "years"}, "mark": {"type": "rule", "color": "#a6a6a6", "strokeWidth": 1},
          "encoding": {"y": {"datum": 0}, "y2": {"datum": -0.08}}},
        {"data": {"name": "years"}, "transform": [{"filter": "datum.t == 2004"}], "mark": {"type": "rule", "color": "#a6a6a6", "strokeWidth": 1},
          "encoding": {"x": {"datum": 2004}, "x2": {"datum": 2020}, "y": {"datum": 0}}},
        {"data": {"name": "rates"}, "mark": {"type": "line", "strokeWidth": 2.4, "strokeJoin": "round"},
          "encoding": {
            "color": {"field": "s", "type": "nominal", "scale": {"domain": ["pol", "polfc", "m3", "m3mkt", "y2", "y2y2"], "range": ["#000000", "#000000", "#0cb0ee", "#0cb0ee", "#ff88ff", "#ffc000"]}, "legend": null},
            "strokeDash": {"field": "s", "type": "nominal", "scale": {"domain": ["pol", "polfc", "m3", "m3mkt", "y2", "y2y2"], "range": [[1, 0], [6, 3], [1, 0], [6, 3], [1, 0], [1, 0]]}, "legend": null}}},
        {"data": {"name": "fcline"}, "mark": {"type": "rule", "color": "#ff0000", "strokeWidth": 2.4, "strokeDash": [6, 4]},
          "encoding": {"y2": {"field": "v2"}}},
        {"data": {"name": "fcarrow"}, "mark": {"type": "rule", "color": "#ff0000", "strokeWidth": 2.4, "strokeCap": "round"},
          "encoding": {"x2": {"field": "t2"}, "y2": {"field": "v2"}}},
        {"data": {"name": "fctext"}, "mark": {"type": "text", "align": "center", "baseline": "middle", "fontSize": 16, "fontWeight": "bold", "color": "#ff0000"},
          "encoding": {"text": {"field": "txt"}}},
        {"data": {"name": "keyrows"}, "mark": {"type": "rule", "strokeWidth": 2.8},
          "encoding": {"x2": {"field": "t2"},
            "color": {"field": "s", "type": "nominal", "scale": {"domain": ["pol", "polfc", "m3", "m3mkt", "y2", "y2y2"], "range": ["#000000", "#000000", "#0cb0ee", "#0cb0ee", "#ff88ff", "#ffc000"]}, "legend": null},
            "strokeDash": {"field": "s", "type": "nominal", "scale": {"domain": ["pol", "polfc", "m3", "m3mkt", "y2", "y2y2"], "range": [[1, 0], [6, 3], [1, 0], [6, 3], [1, 0], [1, 0]]}, "legend": null}}},
        {"data": {"name": "keyrows"}, "mark": {"type": "text", "align": "left", "baseline": "middle", "fontSize": 10.2, "color": "#595959"},
          "encoding": {"x": {"field": "tl", "type": "quantitative"}, "text": {"field": "label"}}}
      ]
    }
  ]
}
